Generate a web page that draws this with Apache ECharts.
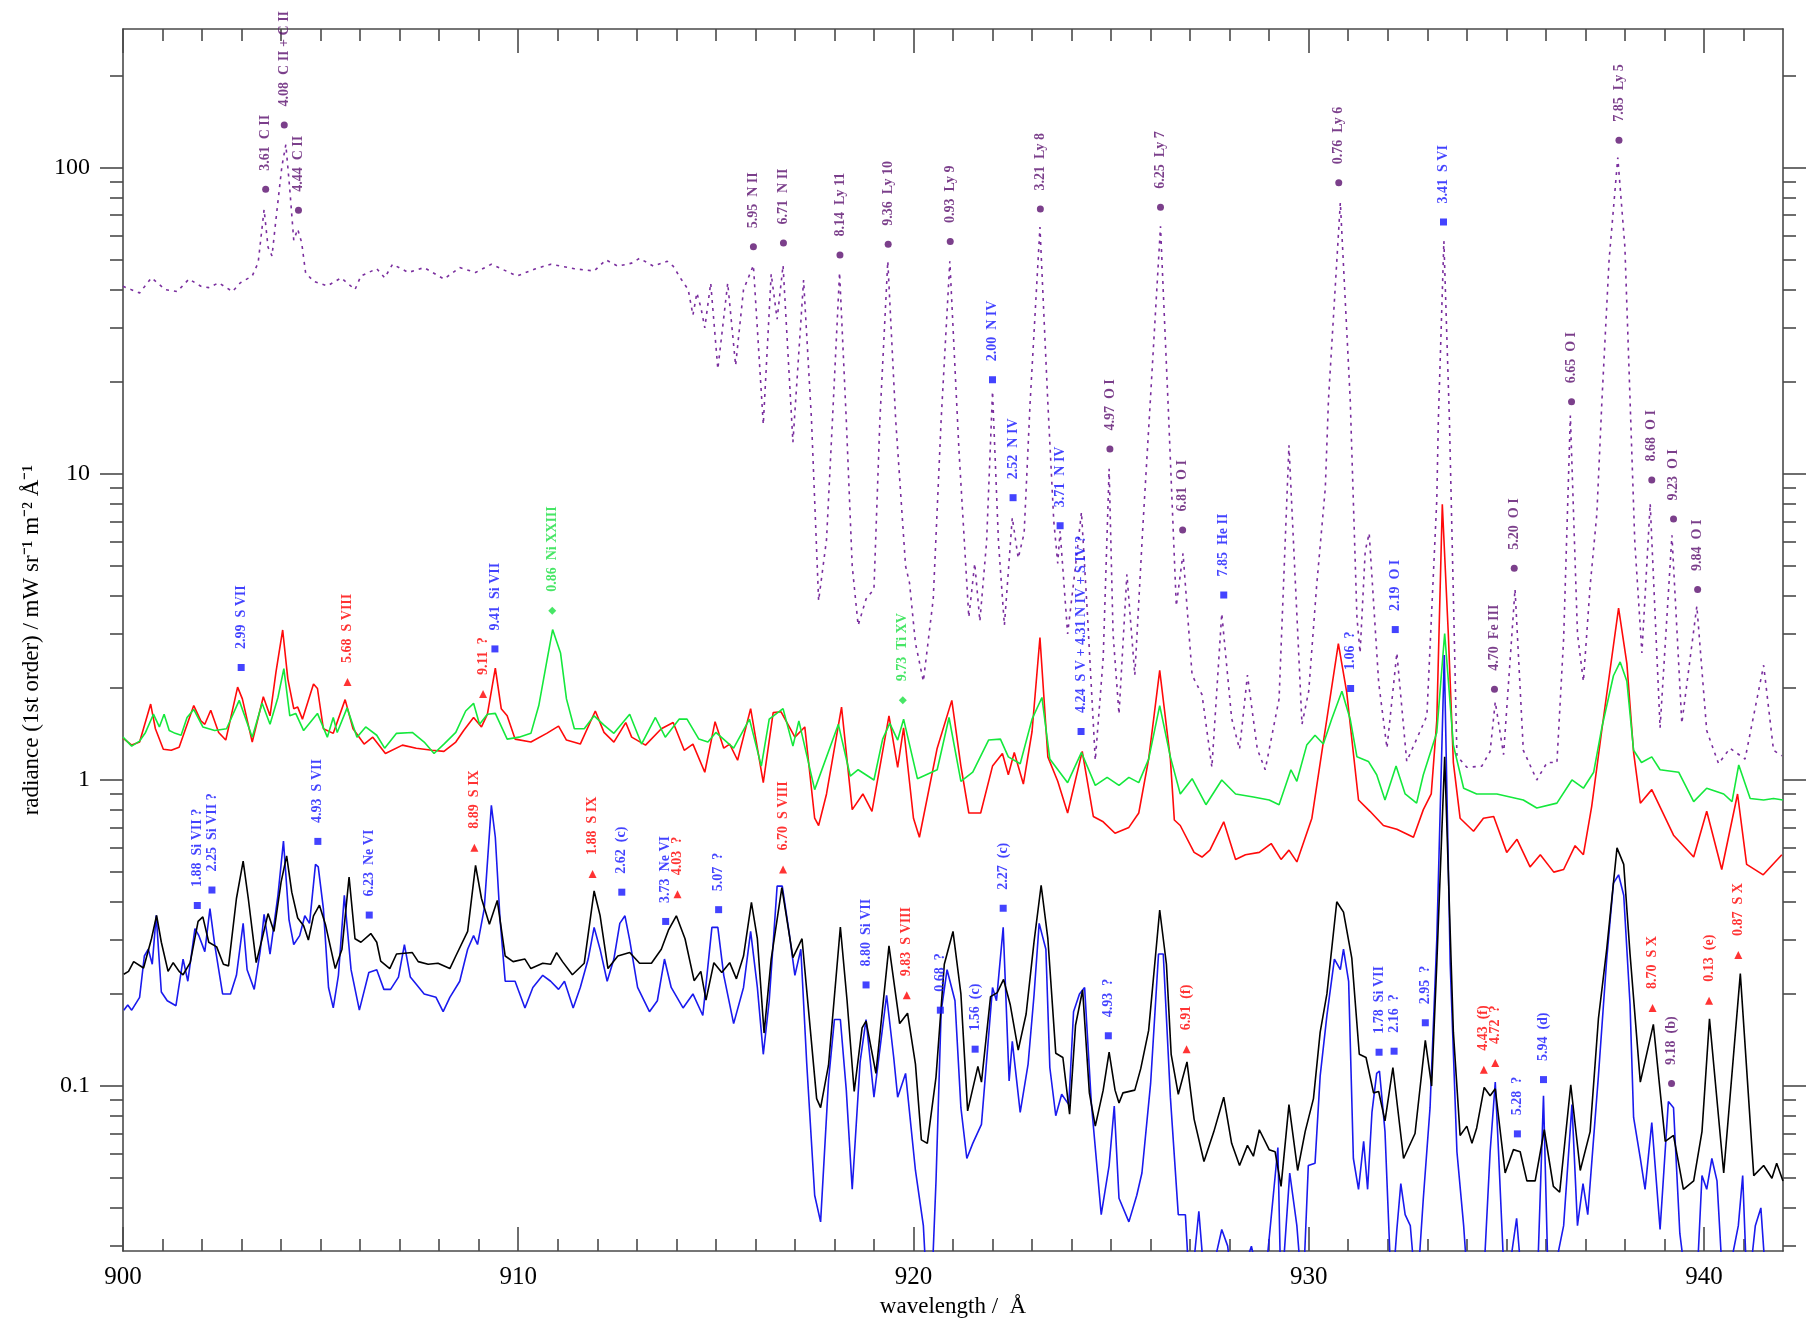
<!DOCTYPE html>
<html><head><meta charset="utf-8">
<script src="https://cdn.jsdelivr.net/npm/echarts@6/dist/echarts.min.js"></script>
<style>html,body{margin:0;padding:0;background:#fff}#c{width:1807px;height:1323px}</style>
</head><body><div id="c"></div>
<script>
// ---------- data: [wavelength (Å), radiance] ----------
const purpleSeries = [[900.0,41],[900.2,40],[900.42,39],[900.72,43.7],[901.07,40],[901.37,39.4],[901.67,43.3],[901.97,41],[902.17,40.6],[902.42,42.1],[902.77,39.4],[902.97,42.1],[903.27,44.3],[903.42,49],[903.57,73],[903.67,55],[903.77,51.5],[903.87,67.8],[904.02,101],[904.12,119],[904.22,85],[904.32,58],[904.42,63],[904.52,57],[904.62,45.4],[904.82,42.6],[905.17,41.1],[905.52,43.7],[905.87,40],[906.02,44.3],[906.42,46.8],[906.62,43.7],[906.82,48.4],[907.22,45.5],[907.62,47.2],[908.12,43.3],[908.52,47.2],[908.92,45.5],[909.32,48.4],[909.97,44.3],[910.42,46.7],[910.82,48.4],[911.42,46.8],[911.92,46],[912.22,50],[912.52,47.7],[912.87,48.8],[913.07,50.6],[913.42,47.7],[913.77,49.5],[913.92,47.7],[914.12,43.3],[914.3,40],[914.42,33],[914.52,39],[914.62,35],[914.72,30],[914.87,42],[915.05,22],[915.3,42],[915.5,22.6],[915.7,40],[915.95,48],[916.2,14.5],[916.4,45],[916.55,32],[916.7,48],[916.95,12.7],[917.22,43],[917.42,15],[917.6,3.85],[917.8,6.1],[917.95,15],[918.13,45.5],[918.3,15],[918.45,5],[918.6,3.2],[918.8,3.9],[919.0,4.2],[919.15,15],[919.35,49.5],[919.55,15],[919.8,5.0],[919.9,4.4],[920.05,2.8],[920.25,2.1],[920.5,3.9],[920.7,15],[920.92,49.5],[921.15,12],[921.4,3.4],[921.55,5.1],[921.68,3.3],[921.85,6],[922.0,18.6],[922.15,6],[922.3,3.2],[922.5,7.2],[922.65,5.3],[922.8,6.4],[922.95,17],[923.2,64],[923.4,17],[923.55,7],[923.65,5.1],[923.71,6.5],[923.9,3.0],[924.1,5.0],[924.25,7.5],[924.4,3.5],[924.6,1.16],[924.8,2.5],[924.95,10.4],[925.05,3.0],[925.2,1.64],[925.4,4.7],[925.6,2.2],[925.8,6.6],[926.0,18],[926.25,64.4],[926.45,16],[926.65,3.7],[926.82,5.5],[927.05,2.2],[927.3,1.9],[927.55,1.1],[927.8,3.5],[928.05,1.59],[928.25,1.26],[928.45,2.2],[928.7,1.26],[928.9,1.08],[929.25,1.84],[929.5,12.4],[929.83,1.52],[930.0,1.95],[930.2,4.3],[930.42,9.0],[930.5,17.5],[930.8,77],[931.05,17.5],[931.22,3.4],[931.3,2.6],[931.43,5.6],[931.53,6.4],[931.77,2.08],[931.98,1.27],[932.23,2.6],[932.48,1.15],[932.99,1.62],[933.24,8.2],[933.28,15],[933.42,57.6],[933.56,15],[933.66,4],[933.75,1.2],[934.0,1.1],[934.38,1.11],[934.59,1.24],[934.72,1.8],[934.93,1.21],[935.22,4.2],[935.43,1.25],[935.77,1.0],[936.03,1.14],[936.28,1.14],[936.45,2.9],[936.62,15.5],[936.8,3],[936.95,2.1],[937.12,4.3],[937.29,7.4],[937.42,17.5],[937.6,50],[937.82,108],[938.0,55],[938.13,17.5],[938.25,6],[938.43,2.6],[938.64,8.0],[938.89,1.48],[939.19,6.3],[939.44,1.53],[939.82,3.7],[940.07,1.45],[940.37,1.13],[940.66,1.27],[941.04,1.17],[941.51,2.37],[941.76,1.25],[941.97,1.2]];

const redSeries = [[900.0,1.37],[900.22,1.30],[900.42,1.33],[900.7,1.77],[900.82,1.47],[901.02,1.26],[901.22,1.25],[901.42,1.28],[901.79,1.75],[901.97,1.56],[902.07,1.52],[902.22,1.69],[902.42,1.43],[902.6,1.35],[902.9,2.01],[903.02,1.84],[903.27,1.33],[903.55,1.87],[903.72,1.62],[903.87,2.25],[904.04,3.09],[904.17,2.14],[904.32,1.71],[904.42,1.73],[904.54,1.58],[904.82,2.06],[904.92,1.99],[905.07,1.47],[905.32,1.42],[905.62,1.83],[905.82,1.47],[906.1,1.31],[906.32,1.38],[906.64,1.22],[907.07,1.30],[907.42,1.27],[907.82,1.25],[908.12,1.24],[908.42,1.33],[908.62,1.45],[908.87,1.60],[909.07,1.49],[909.22,1.64],[909.42,2.32],[909.57,1.71],[909.72,1.62],[909.92,1.36],[910.32,1.33],[910.72,1.42],[911.02,1.50],[911.22,1.35],[911.57,1.31],[911.95,1.68],[912.17,1.43],[912.42,1.33],[912.72,1.54],[912.87,1.38],[913.22,1.30],[913.62,1.47],[913.92,1.54],[914.2,1.25],[914.42,1.31],[914.72,1.06],[914.98,1.55],[915.2,1.27],[915.35,1.31],[915.55,1.16],[915.88,1.71],[916.2,0.98],[916.45,1.66],[916.65,1.67],[917.0,1.38],[917.25,1.49],[917.5,0.75],[917.6,0.71],[917.8,0.9],[918.18,1.73],[918.45,0.80],[918.72,0.90],[918.95,0.79],[919.38,1.62],[919.6,1.10],[919.75,1.48],[920.0,0.75],[920.15,0.65],[920.6,1.27],[920.97,1.82],[921.2,1.11],[921.4,0.78],[921.7,0.78],[922.0,1.11],[922.25,1.22],[922.4,1.04],[922.55,1.23],[922.78,0.97],[923.0,1.44],[923.2,2.92],[923.4,1.19],[923.65,0.99],[923.9,0.78],[924.27,1.24],[924.55,0.76],[924.8,0.73],[925.1,0.67],[925.45,0.70],[925.7,0.78],[925.95,1.17],[926.23,2.28],[926.5,1.17],[926.6,0.74],[926.75,0.71],[927.1,0.58],[927.3,0.56],[927.5,0.59],[927.85,0.73],[928.15,0.55],[928.4,0.57],[928.75,0.58],[929.05,0.62],[929.3,0.55],[929.5,0.59],[929.7,0.54],[930.08,0.75],[930.37,1.33],[930.75,2.79],[930.96,1.94],[931.26,0.86],[931.55,0.79],[931.89,0.71],[932.23,0.69],[932.65,0.65],[932.9,0.80],[933.1,0.9],[933.24,1.56],[933.38,7.96],[933.53,3.04],[933.66,1.14],[933.83,0.75],[934.17,0.68],[934.42,0.75],[934.68,0.76],[935.01,0.58],[935.27,0.64],[935.6,0.52],[935.86,0.57],[936.2,0.50],[936.45,0.51],[936.74,0.61],[936.95,0.57],[937.16,0.82],[937.42,1.47],[937.84,3.64],[938.05,2.4],[938.22,1.23],[938.39,0.84],[938.68,0.93],[939.23,0.66],[939.74,0.56],[940.07,0.79],[940.45,0.51],[940.85,0.90],[941.08,0.53],[941.5,0.49],[941.97,0.57]];

const greenSeries = [[900.0,1.38],[900.22,1.29],[900.42,1.34],[900.57,1.43],[900.77,1.64],[900.92,1.49],[901.04,1.64],[901.17,1.45],[901.32,1.42],[901.47,1.40],[901.62,1.60],[901.79,1.70],[902.02,1.49],[902.32,1.45],[902.62,1.47],[902.94,1.82],[903.27,1.38],[903.52,1.78],[903.72,1.52],[903.92,1.86],[904.07,2.31],[904.22,1.62],[904.37,1.65],[904.57,1.45],[904.92,1.65],[905.17,1.38],[905.32,1.60],[905.42,1.43],[905.67,1.72],[905.92,1.38],[906.14,1.49],[906.42,1.40],[906.62,1.27],[906.92,1.42],[907.32,1.43],[907.62,1.33],[907.87,1.22],[908.12,1.31],[908.42,1.43],[908.67,1.68],[908.87,1.78],[909.02,1.52],[909.22,1.64],[909.42,1.65],[909.72,1.36],[910.02,1.38],[910.32,1.42],[910.52,1.75],[910.72,2.43],[910.87,3.10],[911.07,2.6],[911.22,1.84],[911.42,1.47],[911.67,1.47],[911.92,1.62],[912.17,1.51],[912.42,1.42],[912.82,1.64],[913.12,1.31],[913.47,1.60],[913.72,1.38],[914.07,1.58],[914.27,1.58],[914.57,1.36],[914.8,1.33],[915.0,1.43],[915.45,1.27],[915.85,1.58],[916.15,1.11],[916.35,1.58],[916.7,1.71],[916.95,1.29],[917.1,1.56],[917.5,0.93],[918.1,1.52],[918.4,1.03],[918.6,1.08],[919.0,1.00],[919.22,1.36],[919.4,1.53],[919.6,1.35],[919.75,1.58],[920.1,1.01],[920.6,1.08],[920.9,1.60],[921.2,0.99],[921.5,1.06],[921.9,1.35],[922.2,1.36],[922.4,1.19],[922.7,1.13],[923.0,1.58],[923.25,1.86],[923.45,1.17],[923.9,0.98],[924.25,1.23],[924.6,0.96],[924.9,1.02],[925.2,0.96],[925.45,1.02],[925.7,0.98],[925.95,1.17],[926.23,1.75],[926.5,1.19],[926.75,0.90],[927.05,1.01],[927.4,0.83],[927.8,1.00],[928.15,0.90],[928.6,0.88],[929.0,0.86],[929.25,0.83],[929.55,1.08],[929.7,0.99],[929.95,1.30],[930.16,1.40],[930.37,1.31],[930.58,1.58],[930.84,1.95],[931.05,1.58],[931.22,1.19],[931.51,1.15],[931.72,1.04],[931.93,0.86],[932.21,1.11],[932.44,0.90],[932.73,0.84],[932.9,1.04],[933.24,1.43],[933.44,3.01],[933.66,1.30],[933.92,0.94],[934.25,0.90],[934.76,0.90],[935.43,0.86],[935.77,0.81],[936.28,0.84],[936.66,1.00],[936.95,0.94],[937.21,1.06],[937.42,1.49],[937.71,2.19],[937.88,2.43],[938.05,2.10],[938.22,1.25],[938.42,1.14],[938.68,1.19],[938.89,1.08],[939.36,1.06],[939.74,0.85],[940.07,0.94],[940.5,0.90],[940.71,0.85],[940.88,1.12],[941.17,0.87],[941.51,0.86],[941.76,0.87],[942.0,0.86]];

const blackSeries = [[900.02,0.232],[900.14,0.237],[900.27,0.255],[900.52,0.243],[900.72,0.303],[900.85,0.361],[900.97,0.295],[901.14,0.237],[901.27,0.253],[901.42,0.237],[901.52,0.231],[901.7,0.253],[901.9,0.345],[902.02,0.357],[902.17,0.295],[902.37,0.285],[902.54,0.25],[902.67,0.247],[902.87,0.41],[903.04,0.543],[903.17,0.41],[903.37,0.253],[903.52,0.303],[903.67,0.366],[903.82,0.32],[904.0,0.464],[904.14,0.565],[904.27,0.43],[904.42,0.354],[904.57,0.334],[904.69,0.30],[904.82,0.36],[904.97,0.39],[905.12,0.338],[905.37,0.242],[905.54,0.28],[905.72,0.482],[905.87,0.303],[906.02,0.295],[906.27,0.315],[906.42,0.295],[906.52,0.256],[906.75,0.242],[906.92,0.27],[907.32,0.273],[907.47,0.255],[907.72,0.25],[907.97,0.252],[908.27,0.242],[908.42,0.266],[908.72,0.32],[908.92,0.526],[909.07,0.41],[909.27,0.338],[909.47,0.404],[909.67,0.266],[909.87,0.255],[910.17,0.26],[910.32,0.242],[910.62,0.252],[910.82,0.25],[910.97,0.273],[911.12,0.255],[911.37,0.231],[911.67,0.252],[911.92,0.434],[912.07,0.361],[912.27,0.242],[912.52,0.266],[912.82,0.273],[913.07,0.252],[913.37,0.252],[913.62,0.28],[913.8,0.323],[914.0,0.36],[914.22,0.303],[914.45,0.221],[914.62,0.237],[914.75,0.191],[914.95,0.253],[915.15,0.235],[915.35,0.253],[915.52,0.224],[915.7,0.266],[915.9,0.398],[916.05,0.303],[916.22,0.149],[916.4,0.26],[916.67,0.445],[916.95,0.263],[917.18,0.303],[917.35,0.174],[917.55,0.091],[917.65,0.085],[917.85,0.117],[918.15,0.331],[918.32,0.19],[918.5,0.096],[918.7,0.155],[918.8,0.163],[919.05,0.11],[919.38,0.287],[919.65,0.16],[919.85,0.173],[920.05,0.118],[920.2,0.0667],[920.35,0.065],[920.57,0.107],[920.78,0.25],[921.0,0.32],[921.2,0.2],[921.37,0.083],[921.63,0.116],[921.72,0.103],[921.95,0.196],[922.12,0.202],[922.28,0.223],[922.45,0.184],[922.65,0.131],[922.85,0.172],[923.05,0.296],[923.23,0.453],[923.4,0.303],[923.6,0.128],[923.78,0.124],[923.95,0.081],[924.1,0.158],[924.28,0.206],[924.45,0.095],[924.6,0.074],[924.8,0.097],[924.95,0.129],[925.1,0.097],[925.2,0.088],[925.3,0.095],[925.6,0.097],[925.75,0.114],[925.95,0.152],[926.23,0.376],[926.4,0.25],[926.52,0.127],[926.7,0.094],[926.92,0.12],[927.1,0.078],[927.35,0.0567],[927.6,0.071],[927.85,0.092],[928.05,0.065],[928.25,0.055],[928.45,0.064],[928.6,0.059],[928.75,0.072],[929.0,0.062],[929.15,0.061],[929.3,0.047],[929.5,0.087],[929.72,0.053],[929.91,0.071],[930.12,0.091],[930.29,0.15],[930.46,0.2],[930.71,0.40],[930.88,0.37],[931.09,0.262],[931.28,0.127],[931.45,0.124],[931.64,0.095],[931.77,0.096],[931.93,0.077],[932.13,0.115],[932.4,0.058],[932.69,0.07],[932.95,0.141],[933.11,0.1],[933.24,0.25],[933.44,1.19],[933.66,0.15],[933.83,0.069],[934.0,0.074],[934.13,0.065],[934.25,0.073],[934.44,0.099],[934.59,0.093],[934.72,0.098],[934.97,0.052],[935.18,0.062],[935.35,0.061],[935.52,0.049],[935.73,0.049],[935.96,0.072],[936.19,0.047],[936.35,0.045],[936.63,0.101],[936.87,0.053],[937.12,0.071],[937.33,0.166],[937.54,0.28],[937.8,0.60],[937.97,0.53],[938.13,0.27],[938.39,0.103],[938.72,0.159],[939.02,0.066],[939.23,0.069],[939.48,0.046],[939.74,0.049],[939.95,0.071],[940.14,0.166],[940.5,0.052],[940.92,0.233],[941.26,0.051],[941.51,0.055],[941.72,0.05],[941.84,0.056],[942.0,0.049]];

const blueSeries = [[900.02,0.177],[900.12,0.184],[900.22,0.177],[900.42,0.195],[900.54,0.266],[900.64,0.28],[900.74,0.25],[900.84,0.361],[900.97,0.203],[901.12,0.19],[901.34,0.183],[901.52,0.26],[901.64,0.22],[901.82,0.327],[901.92,0.31],[902.07,0.275],[902.2,0.38],[902.32,0.29],[902.52,0.2],[902.72,0.2],[902.87,0.23],[903.04,0.34],[903.14,0.24],[903.32,0.207],[903.47,0.275],[903.57,0.364],[903.72,0.27],[903.92,0.42],[904.06,0.632],[904.2,0.35],[904.32,0.29],[904.47,0.31],[904.6,0.36],[904.72,0.34],[904.87,0.53],[904.94,0.52],[905.07,0.38],[905.2,0.21],[905.32,0.18],[905.45,0.23],[905.6,0.42],[905.77,0.24],[905.98,0.177],[906.22,0.235],[906.42,0.24],[906.6,0.207],[906.77,0.207],[906.97,0.227],[907.12,0.29],[907.27,0.227],[907.42,0.215],[907.62,0.2],[907.92,0.195],[908.1,0.175],[908.27,0.195],[908.52,0.22],[908.72,0.28],[908.87,0.31],[908.97,0.29],[909.14,0.38],[909.32,0.826],[909.42,0.65],[909.54,0.35],[909.67,0.22],[909.92,0.22],[910.17,0.18],[910.37,0.21],[910.62,0.23],[910.82,0.22],[911.02,0.207],[911.17,0.22],[911.39,0.18],[911.57,0.21],[911.77,0.26],[911.92,0.33],[912.07,0.28],[912.25,0.22],[912.42,0.26],[912.57,0.34],[912.7,0.36],[912.82,0.3],[913.02,0.21],[913.32,0.175],[913.52,0.19],[913.7,0.26],[913.87,0.21],[914.17,0.18],[914.42,0.2],[914.67,0.17],[914.9,0.33],[915.05,0.33],[915.2,0.23],[915.45,0.16],[915.7,0.21],[915.88,0.32],[916.05,0.21],[916.2,0.127],[916.35,0.19],[916.55,0.45],[916.68,0.45],[916.85,0.32],[917.0,0.23],[917.15,0.28],[917.3,0.118],[917.5,0.044],[917.65,0.036],[917.85,0.104],[918.0,0.165],[918.15,0.165],[918.3,0.097],[918.45,0.046],[918.65,0.12],[918.8,0.165],[919.0,0.092],[919.32,0.198],[919.5,0.124],[919.6,0.092],[919.8,0.11],[920.05,0.053],[920.25,0.035],[920.35,0.02],[920.45,0.02],[920.57,0.049],[920.7,0.175],[920.85,0.24],[921.05,0.19],[921.2,0.085],[921.35,0.058],[921.5,0.065],[921.72,0.075],[922.0,0.21],[922.1,0.19],[922.27,0.33],[922.42,0.104],[922.5,0.14],[922.7,0.082],[922.9,0.118],[923.05,0.198],[923.18,0.34],[923.35,0.28],[923.45,0.115],[923.6,0.08],[923.75,0.094],[923.93,0.087],[924.05,0.175],[924.2,0.2],[924.33,0.21],[924.5,0.088],[924.75,0.038],[924.95,0.055],[925.08,0.086],[925.2,0.043],[925.45,0.036],[925.65,0.044],[925.78,0.052],[926.0,0.102],[926.2,0.27],[926.32,0.27],[926.5,0.092],[926.7,0.038],[926.88,0.038],[927.0,0.02],[927.22,0.039],[927.4,0.02],[927.8,0.034],[927.95,0.03],[928.1,0.02],[928.55,0.03],[928.85,0.02],[929.22,0.063],[929.3,0.02],[929.52,0.052],[929.7,0.035],[929.85,0.02],[929.99,0.055],[930.16,0.056],[930.29,0.108],[930.46,0.17],[930.65,0.26],[930.8,0.24],[930.88,0.28],[931.01,0.22],[931.13,0.058],[931.26,0.046],[931.39,0.066],[931.49,0.046],[931.6,0.082],[931.72,0.11],[931.79,0.112],[931.93,0.071],[932.1,0.02],[932.23,0.034],[932.33,0.048],[932.44,0.038],[932.57,0.035],[932.73,0.02],[932.9,0.043],[933.07,0.085],[933.24,0.30],[933.43,2.56],[933.58,0.25],[933.75,0.061],[933.92,0.035],[934.05,0.02],[934.4,0.02],[934.59,0.061],[934.72,0.103],[934.8,0.062],[934.97,0.02],[935.26,0.037],[935.43,0.02],[935.77,0.02],[935.94,0.093],[936.07,0.02],[936.45,0.035],[936.66,0.087],[936.8,0.035],[936.94,0.048],[937.06,0.038],[937.16,0.056],[937.33,0.108],[937.54,0.26],[937.71,0.46],[937.84,0.49],[937.97,0.42],[938.13,0.185],[938.22,0.079],[938.39,0.058],[938.51,0.046],[938.68,0.076],[938.89,0.034],[939.1,0.089],[939.23,0.085],[939.39,0.033],[939.6,0.02],[939.8,0.02],[939.95,0.051],[940.07,0.046],[940.2,0.058],[940.33,0.049],[940.5,0.02],[940.87,0.035],[940.98,0.051],[941.1,0.02],[941.3,0.035],[941.44,0.04],[941.6,0.02],[942.0,0.02]];

// ---------- line identifications: [wavelength, marker radiance, label] ----------
const purpleLabels = [[903.61,85,'3.61  C II'],[904.08,138,'4.08  C II + C II'],[904.44,72.6,'4.44  C II'],[915.95,55.2,'5.95  N II'],[916.71,56.8,'6.71  N II'],[918.14,51.9,'8.14  Ly 11'],[919.36,56.3,'9.36  Ly 10'],[920.93,57.4,'0.93  Ly 9'],[923.21,73.3,'3.21  Ly 8'],[926.25,74.3,'6.25  Ly 7'],[924.97,12.05,'4.97  O I'],[926.81,6.56,'6.81  O I'],[930.76,89.3,'0.76  Ly 6'],[934.70,1.98,'4.70  Fe III'],[935.20,4.92,'5.20  O I'],[936.65,17.2,'6.65  O I'],[937.85,123,'7.85  Ly 5'],[938.68,9.55,'8.68  O I'],[939.23,7.12,'9.23  O I'],[939.84,4.19,'9.84  O I'],[939.18,0.102,'9.18  (b)']];
const blueLabels = [[902.99,2.33,'2.99  S VII'],[909.41,2.68,'9.41  Si VII'],[922.00,20.3,'2.00  N IV'],[922.52,8.36,'2.52  N IV'],[923.71,6.77,'3.71  N IV'],[924.24,1.44,'4.24  S V + 4.31 N IV + S IV ?'],[927.85,4.02,'7.85  He II'],[931.06,1.99,'1.06  ?'],[932.19,3.1,'2.19  O I'],[933.41,66.5,'3.41  S VI'],[901.88,0.389,'1.88  Si VII ?'],[902.25,0.437,'2.25  Si VII ?'],[904.93,0.63,'4.93  S VII'],[906.23,0.362,'6.23  Ne VI'],[912.62,0.43,'2.62  (c)'],[913.73,0.345,'3.73  Ne VI'],[915.07,0.377,'5.07  ?'],[918.80,0.214,'8.80  Si VII'],[920.68,0.177,'0.68  ?'],[921.56,0.132,'1.56  (c)'],[922.27,0.381,'2.27  (c)'],[924.93,0.146,'4.93  ?'],[931.78,0.129,'1.78  Si VII'],[932.16,0.130,'2.16  ?'],[932.95,0.161,'2.95  ?'],[935.28,0.0698,'5.28  ?'],[935.94,0.105,'5.94  (d)']];
const redLabels = [[905.68,2.09,'5.68  S VIII'],[909.11,1.91,'9.11  ?'],[908.89,0.601,'8.89  S IX'],[911.88,0.493,'1.88  S IX'],[914.03,0.423,'4.03  ?'],[916.70,0.51,'6.70  S VIII'],[919.83,0.198,'9.83  S VIII'],[926.91,0.132,'6.91  (f)'],[934.43,0.113,'4.43  (f)'],[934.72,0.119,'4.72  ?'],[938.70,0.18,'8.70  S X'],[940.13,0.19,'0.13  (e)'],[940.87,0.268,'0.87  S X']];
const greenLabels = [[910.86,3.57,'0.86  Ni XXIII'],[919.73,1.82,'9.73  Ti XV']];

// ---------- axes ----------
const xRange = [900, 942];
const xMajorTicks = [900, 910, 920, 930, 940];
const xMinorTicks = [901,902,903,904,905,906,907,908,909,911,912,913,914,915,916,917,918,919,921,922,923,924,925,926,927,928,929,931,932,933,934,935,936,937,938,939,941];
const yRange = [0.0289, 284];
const yMajorTicks = [0.1, 1, 10, 100];
const yMinorTicks = [0.03,0.04,0.05,0.06,0.07,0.08,0.09,0.2,0.3,0.4,0.5,0.6,0.7,0.8,0.9,2,3,4,5,6,7,8,9,20,30,40,50,60,70,80,90,200];

const L = Math.log10;
const toLog = arr => arr.map(p => [p[0], L(p[1])]);

const FONT = 'Liberation Serif';
const AXC = '#4a4a4a';
const baseX = {type:'value', min:xRange[0], max:xRange[1], splitLine:{show:false}};
const baseY = {type:'value', min:L(yRange[0]), max:L(yRange[1]), splitLine:{show:false}};
const lineSt = {color:AXC, width:1.6};

const xAxes = [
  Object.assign({}, baseX, {position:'bottom', axisLine:{onZero:false, lineStyle:lineSt},
    axisTick:{inside:true, length:24, lineStyle:lineSt, customValues:xMajorTicks},
    axisLabel:{customValues:xMajorTicks, margin:14, color:'#000', fontFamily:FONT, fontSize:25},
    name:'wavelength /  Å', nameLocation:'middle', nameGap:43,
    nameTextStyle:{fontFamily:FONT, fontSize:23, color:'#000', verticalAlign:'middle'}}),
  Object.assign({}, baseX, {position:'bottom', axisLine:{show:false, onZero:false},
    axisTick:{inside:true, length:12, lineStyle:lineSt, customValues:xMinorTicks}, axisLabel:{show:false}}),
  Object.assign({}, baseX, {position:'top', axisLine:{onZero:false, lineStyle:lineSt},
    axisTick:{inside:true, length:24, lineStyle:lineSt, customValues:xMajorTicks}, axisLabel:{show:false}}),
  Object.assign({}, baseX, {position:'top', axisLine:{show:false, onZero:false},
    axisTick:{inside:true, length:12, lineStyle:lineSt, customValues:xMinorTicks}, axisLabel:{show:false}})
];
const yMajLog = yMajorTicks.map(L), yMinLog = yMinorTicks.map(L);
const yAxes = [
  Object.assign({}, baseY, {position:'left', axisLine:{show:true, onZero:false, lineStyle:lineSt},
    axisTick:{show:true, inside:false, length:23, lineStyle:lineSt, customValues:yMajLog},
    axisLabel:{customValues:yMajLog, margin:33, color:'#000', fontFamily:FONT, fontSize:24,
      formatter: v => { const r = Math.pow(10, v); return r < 1 ? r.toFixed(1) : String(Math.round(r)); }},
    name:'radiance (1st order) / mW sr\u207B\u00B9 m\u207B\u00B2 Å\u207B\u00B9', nameLocation:'middle', nameGap:91,
    nameTextStyle:{fontFamily:FONT, fontSize:23, color:'#000', verticalAlign:'middle'}}),
  Object.assign({}, baseY, {position:'left', axisLine:{show:false, onZero:false},
    axisTick:{show:true, inside:false, length:13, lineStyle:lineSt, customValues:yMinLog}, axisLabel:{show:false}}),
  Object.assign({}, baseY, {position:'right', axisLine:{show:true, onZero:false, lineStyle:lineSt},
    axisTick:{show:true, inside:false, length:23, lineStyle:lineSt, customValues:yMajLog}, axisLabel:{show:false}}),
  Object.assign({}, baseY, {position:'right', axisLine:{show:false, onZero:false},
    axisTick:{show:true, inside:false, length:13, lineStyle:lineSt, customValues:yMinLog}, axisLabel:{show:false}})
];

function lineSeries(name, data, color, extra) {
  return Object.assign({
    name, type:'line', data: toLog(data), xAxisIndex:0, yAxisIndex:0,
    showSymbol:false, symbol:'none', clip:true, smooth:false,
    lineStyle:{color, width:1.6}
  }, extra || {});
}
function annoSeries(name, list, color, symbol, size) {
  return {
    name, type:'scatter', xAxisIndex:0, yAxisIndex:0, z:10,
    symbol, symbolSize:size, itemStyle:{color},
    data: list.map(a => ({value:[a[0], L(a[1])], name:a[2]})),
    label:{show:true, position:'top', distance:15, rotate:90, align:'left', verticalAlign:'middle',
      formatter:'{b}', color, fontFamily:FONT, fontWeight:'bold', fontSize:14}
  };
}

const chart = echarts.init(document.getElementById('c'), null, {renderer:'canvas'});
chart.setOption({
  animation:false,
  backgroundColor:'#fff',
  grid:{left:123, right:24, top:29, bottom:70, containLabel:false},
  xAxis:xAxes,
  yAxis:yAxes,
  series:[
    lineSeries('purple', purpleSeries, '#7a2e9e', {z:1, lineStyle:{color:'#7a2e9e', width:1.6, type:[3,5]}}),
    lineSeries('red', redSeries, '#ff0a0a', {z:2}),
    lineSeries('green', greenSeries, '#14e83c', {z:3}),
    lineSeries('blue', blueSeries, '#1a1aee', {z:4}),
    lineSeries('black', blackSeries, '#000000', {z:5}),
    annoSeries('purpleIds', purpleLabels, '#5a0f6e', 'circle', 7),
    annoSeries('blueIds', blueLabels, '#1414ff', 'rect', 7),
    annoSeries('redIds', redLabels, '#ff0000', 'triangle', 8),
    annoSeries('greenIds', greenLabels, '#19e040', 'diamond', 8)
  ]
});
</script></body></html>
